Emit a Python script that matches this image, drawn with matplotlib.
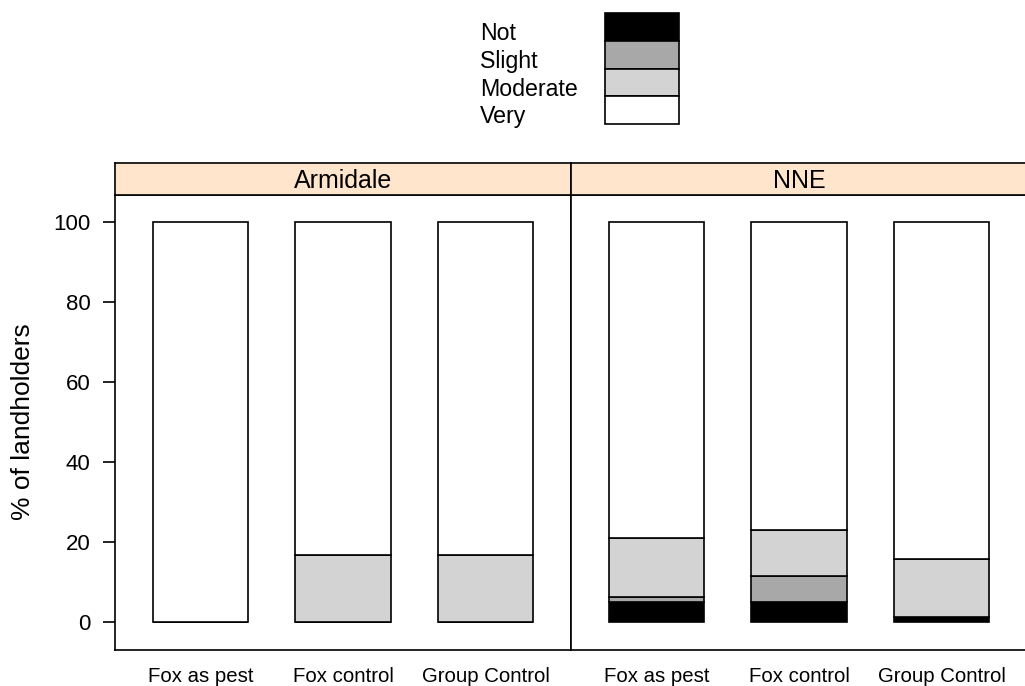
"""Stacked percentage bars of fox-control attitudes, Armidale vs NNE (lattice style)."""

import matplotlib

matplotlib.use("Agg")
import matplotlib.patches as mpatches  # noqa: E402
import matplotlib.pyplot as plt  # noqa: E402

plt.rcParams["font.family"] = ["Liberation Sans", "DejaVu Sans"]

PANELS = ["Armidale", "NNE"]
CATEGORIES = ["Fox as pest", "Fox control", "Group Control"]
LEVELS = ["Not", "Slight", "Moderate", "Very"]

# percent of landholders per level, per panel, per category
ARMIDALE_NOT = [0.0, 0.0, 0.0]
ARMIDALE_SLIGHT = [0.0, 0.0, 0.0]
ARMIDALE_MODERATE = [0.0, 16.7, 16.7]
ARMIDALE_VERY = [100.0, 83.3, 83.3]

NNE_NOT = [5.1, 5.1, 1.3]
NNE_SLIGHT = [1.1, 6.4, 0.0]
NNE_MODERATE = [14.8, 11.5, 14.4]
NNE_VERY = [79.0, 77.0, 84.3]

Y_TICKS = [0, 20, 40, 60, 80, 100]

COLORS = ["#000000", "#a8a8a8", "#d3d3d3", "#ffffff"]
STRIP = "#ffe5cc"
W, H = 1025, 686


def fx(px):
    return px / W


def fy(py):
    return 1 - py / H


def panel(fig, left, name, series):
    ax = fig.add_axes([fx(left), fy(650), fx(456), fy(195) - fy(650)])
    xs = range(1, len(CATEGORIES) + 1)
    bottom = [0.0] * len(CATEGORIES)
    for vals, color in zip(series, COLORS):
        ax.bar(xs, vals, bottom=bottom, width=0.67, color=color,
               edgecolor="black", linewidth=1.2, zorder=3)
        bottom = [b + v for b, v in zip(bottom, vals)]
    ax.set_xlim(0.4, 3.6)
    ax.set_ylim(-7, 106.75)
    ax.set_xticks(list(xs))
    ax.set_xticklabels(CATEGORIES, fontsize=14.7)
    ax.tick_params(axis="x", length=0, pad=12)
    for s in ax.spines.values():
        s.set_linewidth(1.2)

    strip = fig.add_axes([fx(left), fy(195), fx(456), fy(163) - fy(195)])
    strip.set_facecolor(STRIP)
    strip.set_xticks([])
    strip.set_yticks([])
    for s in strip.spines.values():
        s.set_linewidth(1.2)
    strip.text(0.5, 0.45, name, ha="center", va="center", fontsize=18,
               transform=strip.transAxes)
    return ax


def main():
    fig = plt.figure(figsize=(W / 100, H / 100), dpi=100)

    ax1 = panel(fig, 115, PANELS[0],
                [ARMIDALE_NOT, ARMIDALE_SLIGHT, ARMIDALE_MODERATE, ARMIDALE_VERY])
    ax2 = panel(fig, 571, PANELS[1],
                [NNE_NOT, NNE_SLIGHT, NNE_MODERATE, NNE_VERY])

    ax1.set_yticks(Y_TICKS)
    ax1.tick_params(axis="y", labelsize=16, length=8.6, width=1.2, pad=9)
    ax2.set_yticks([])
    fig.text(fx(23), fy(422), "% of landholders", rotation=90,
             ha="center", va="center", fontsize=19)

    # legend (key above panels)
    top = 13
    step = 27.75
    for i, (lab, col) in enumerate(zip(LEVELS, COLORS)):
        y0 = top + i * step
        fig.patches.append(mpatches.Rectangle(
            (fx(605), fy(y0 + step)), fx(74), fy(y0) - fy(y0 + step),
            facecolor=col, edgecolor="black", linewidth=1.2,
            transform=fig.transFigure))
        fig.text(fx(480), fy(y0 + 27), lab, ha="left", va="baseline", fontsize=16.7)

    fig.savefig("out.png", dpi=100)


if __name__ == "__main__":
    main()
